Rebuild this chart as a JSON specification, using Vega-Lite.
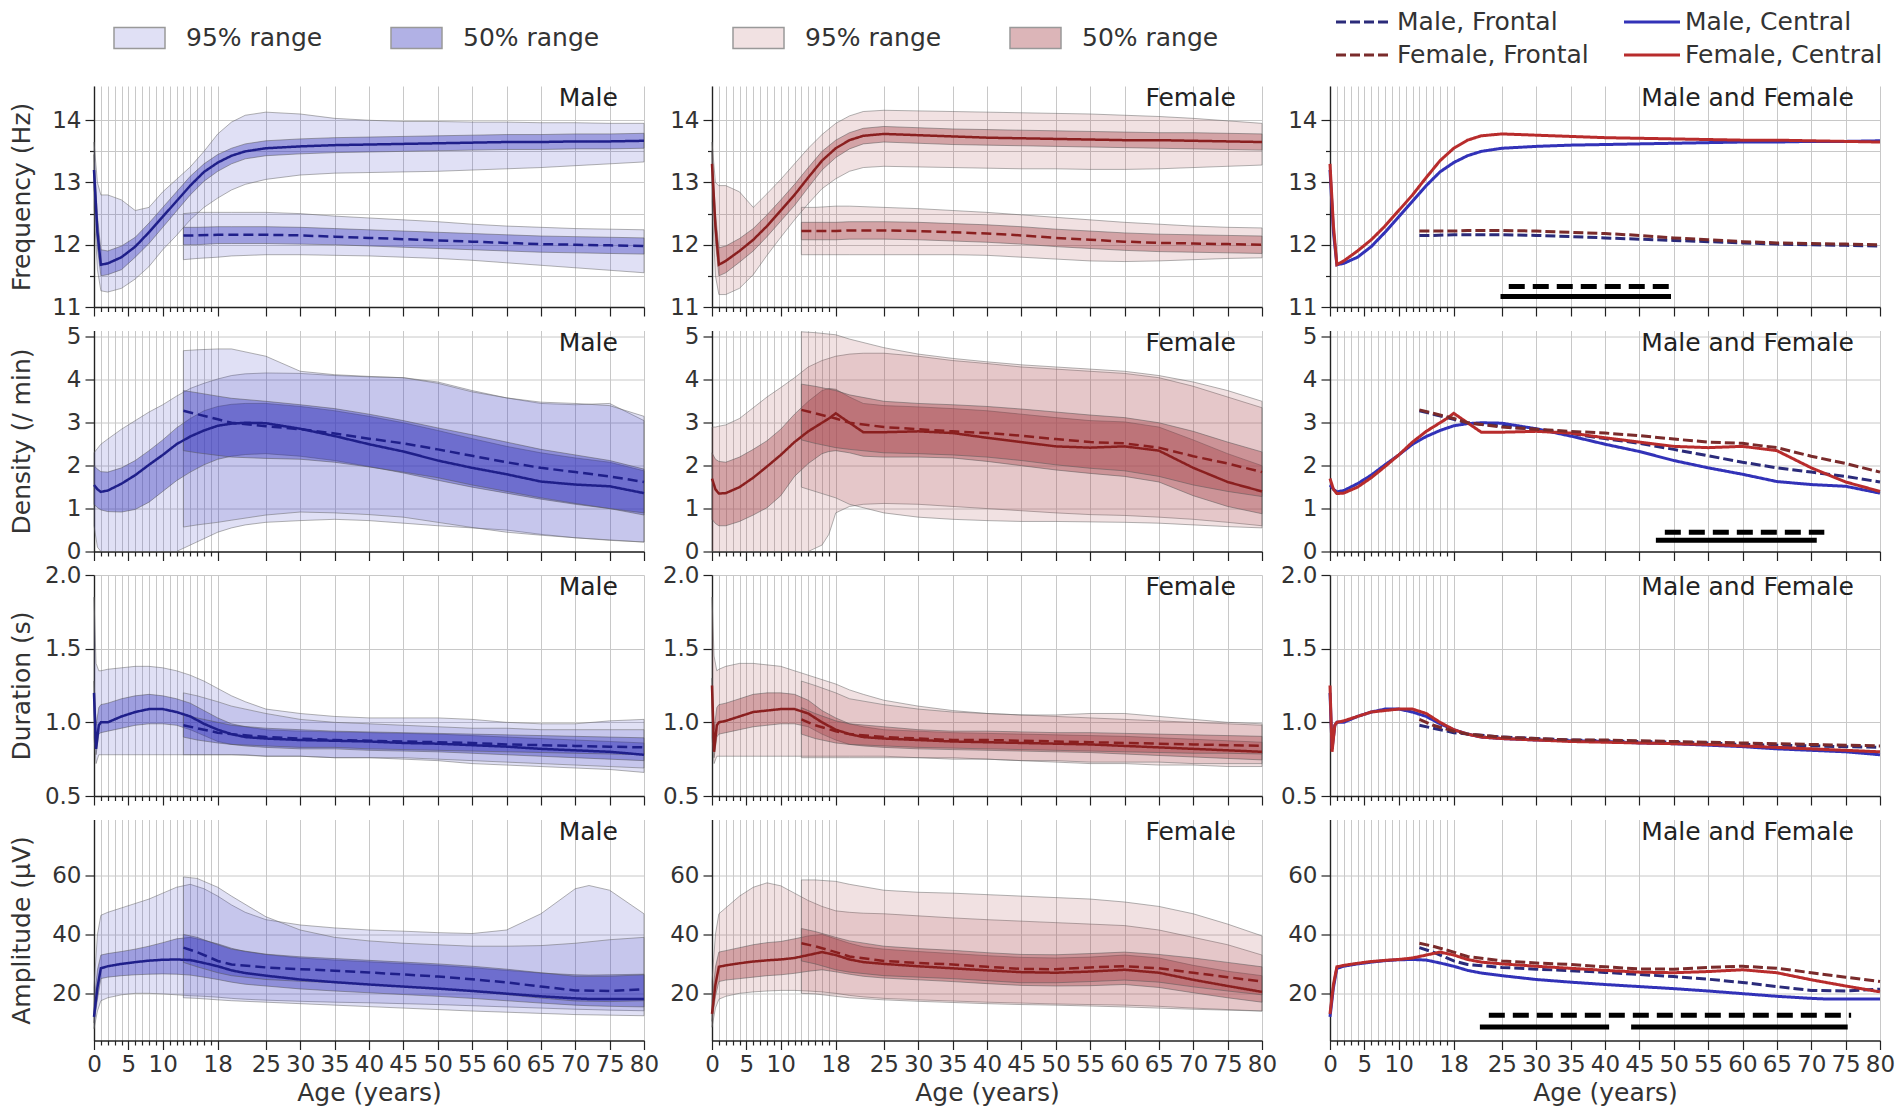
{
"$schema": "https://vega.github.io/schema/vega-lite/v6.json",
"background": "white",
"padding": {"left": 8, "top": 8, "right": 4, "bottom": 4},
"config": {
 "font": "DejaVu Sans",
 "view": {"stroke": null},
 "axis": {"grid": true, "gridColor": "#c8c8c8", "gridWidth": 1, "domainColor": "#222", "domainWidth": 1.4, "tickColor": "#222", "tickWidth": 1.2, "tickSize": 9, "labelFont": "DejaVu Sans", "labelFontSize": 23, "labelColor": "#333", "labelPadding": 4, "titleFont": "DejaVu Sans", "titleFontSize": 25, "titleFontWeight": "normal", "titleColor": "#333", "labelFlush": false, "labelOverlap": false, "labelBound": false, "tickCount": 100},
 "axisX": {"titlePadding": 4},
 "axisY": {"titleX": -60, "titleBaseline": "bottom"},
 "legend": {"labelFont": "DejaVu Sans", "labelFontSize": 25, "labelColor": "#333", "labelLimit": 400}
},
"datasets": {
"s": [
{"m":"f","t":"F","a0":26,"a1":50.3,"v":11.33},
{"m":"f","t":"C","a0":24.8,"a1":49.6,"v":11.17},
{"m":"d","t":"F","a0":48.7,"a1":71.9,"v":0.45},
{"m":"d","t":"C","a0":47.4,"a1":70.8,"v":0.26},
{"m":"a","t":"F","a0":23.1,"a1":75.8,"v":12.6},
{"m":"a","t":"C","a0":21.8,"a1":40.6,"v":8.6},
{"m":"a","t":"C","a0":43.8,"a1":75.3,"v":8.6}
],
"d": [
{"m":"f","g":"MC","a":0,"md":13.2,"l5":12.9,"h5":13.45,"l9":12.6,"h9":13.65},
{"m":"f","g":"MC","a":0.5,"md":12.2,"l5":11.95,"h5":12.45,"l9":11.6,"h9":13.0},
{"m":"f","g":"MC","a":1,"md":11.68,"l5":11.5,"h5":11.92,"l9":11.26,"h9":12.8},
{"m":"f","g":"MC","a":2,"md":11.7,"l5":11.52,"h5":11.9,"l9":11.24,"h9":12.8},
{"m":"f","g":"MC","a":4,"md":11.8,"l5":11.6,"h5":11.98,"l9":11.3,"h9":12.72},
{"m":"f","g":"MC","a":6,"md":11.97,"l5":11.8,"h5":12.12,"l9":11.45,"h9":12.55},
{"m":"f","g":"MC","a":8,"md":12.2,"l5":12.02,"h5":12.35,"l9":11.65,"h9":12.6},
{"m":"f","g":"MC","a":10,"md":12.45,"l5":12.28,"h5":12.6,"l9":11.92,"h9":12.85},
{"m":"f","g":"MC","a":12,"md":12.7,"l5":12.54,"h5":12.85,"l9":12.15,"h9":13.05},
{"m":"f","g":"MC","a":14,"md":12.95,"l5":12.8,"h5":13.1,"l9":12.4,"h9":13.25},
{"m":"f","g":"MC","a":16,"md":13.17,"l5":13.02,"h5":13.3,"l9":12.6,"h9":13.5},
{"m":"f","g":"MC","a":18,"md":13.32,"l5":13.18,"h5":13.45,"l9":12.75,"h9":13.78},
{"m":"f","g":"MC","a":20,"md":13.43,"l5":13.3,"h5":13.55,"l9":12.88,"h9":13.97},
{"m":"f","g":"MC","a":22,"md":13.5,"l5":13.38,"h5":13.62,"l9":12.97,"h9":14.08},
{"m":"f","g":"MC","a":25,"md":13.55,"l5":13.43,"h5":13.67,"l9":13.05,"h9":14.13},
{"m":"f","g":"MC","a":30,"md":13.58,"l5":13.46,"h5":13.7,"l9":13.12,"h9":14.1},
{"m":"f","g":"MC","a":35,"md":13.6,"l5":13.48,"h5":13.72,"l9":13.15,"h9":14.03},
{"m":"f","g":"MC","a":40,"md":13.61,"l5":13.49,"h5":13.73,"l9":13.16,"h9":14.0},
{"m":"f","g":"MC","a":45,"md":13.62,"l5":13.5,"h5":13.74,"l9":13.17,"h9":13.98},
{"m":"f","g":"MC","a":50,"md":13.63,"l5":13.51,"h5":13.75,"l9":13.18,"h9":13.98},
{"m":"f","g":"MC","a":55,"md":13.64,"l5":13.52,"h5":13.76,"l9":13.2,"h9":13.97},
{"m":"f","g":"MC","a":60,"md":13.65,"l5":13.53,"h5":13.77,"l9":13.22,"h9":13.97},
{"m":"f","g":"MC","a":65,"md":13.65,"l5":13.53,"h5":13.77,"l9":13.24,"h9":13.96},
{"m":"f","g":"MC","a":70,"md":13.66,"l5":13.54,"h5":13.78,"l9":13.27,"h9":13.96},
{"m":"f","g":"MC","a":75,"md":13.66,"l5":13.54,"h5":13.78,"l9":13.3,"h9":13.95},
{"m":"f","g":"MC","a":80,"md":13.67,"l5":13.55,"h5":13.79,"l9":13.33,"h9":13.95},
{"m":"f","g":"MF","a":13,"md":12.15,"l5":12.0,"h5":12.28,"l9":11.76,"h9":12.5},
{"m":"f","g":"MF","a":15,"md":12.15,"l5":12.0,"h5":12.28,"l9":11.78,"h9":12.52},
{"m":"f","g":"MF","a":18,"md":12.16,"l5":12.02,"h5":12.29,"l9":11.8,"h9":12.52},
{"m":"f","g":"MF","a":20,"md":12.16,"l5":12.02,"h5":12.29,"l9":11.82,"h9":12.52},
{"m":"f","g":"MF","a":25,"md":12.16,"l5":12.02,"h5":12.29,"l9":11.84,"h9":12.52},
{"m":"f","g":"MF","a":30,"md":12.15,"l5":12.01,"h5":12.28,"l9":11.84,"h9":12.5},
{"m":"f","g":"MF","a":35,"md":12.13,"l5":12.0,"h5":12.26,"l9":11.83,"h9":12.46},
{"m":"f","g":"MF","a":40,"md":12.11,"l5":11.98,"h5":12.24,"l9":11.82,"h9":12.43},
{"m":"f","g":"MF","a":45,"md":12.09,"l5":11.96,"h5":12.22,"l9":11.8,"h9":12.4},
{"m":"f","g":"MF","a":50,"md":12.07,"l5":11.94,"h5":12.2,"l9":11.78,"h9":12.37},
{"m":"f","g":"MF","a":55,"md":12.05,"l5":11.92,"h5":12.18,"l9":11.75,"h9":12.33},
{"m":"f","g":"MF","a":60,"md":12.03,"l5":11.9,"h5":12.16,"l9":11.71,"h9":12.3},
{"m":"f","g":"MF","a":65,"md":12.01,"l5":11.88,"h5":12.14,"l9":11.67,"h9":12.28},
{"m":"f","g":"MF","a":70,"md":12.0,"l5":11.87,"h5":12.13,"l9":11.63,"h9":12.26},
{"m":"f","g":"MF","a":75,"md":11.99,"l5":11.86,"h5":12.12,"l9":11.59,"h9":12.25},
{"m":"f","g":"MF","a":80,"md":11.98,"l5":11.85,"h5":12.11,"l9":11.55,"h9":12.24},
{"m":"f","g":"FC","a":0,"md":13.3,"l5":13.0,"h5":13.5,"l9":12.7,"h9":13.65},
{"m":"f","g":"FC","a":0.5,"md":12.3,"l5":12.05,"h5":12.5,"l9":11.5,"h9":13.0},
{"m":"f","g":"FC","a":1,"md":11.68,"l5":11.5,"h5":11.95,"l9":11.2,"h9":12.95},
{"m":"f","g":"FC","a":2,"md":11.74,"l5":11.55,"h5":11.98,"l9":11.2,"h9":12.95},
{"m":"f","g":"FC","a":4,"md":11.9,"l5":11.72,"h5":12.1,"l9":11.3,"h9":12.85},
{"m":"f","g":"FC","a":6,"md":12.08,"l5":11.9,"h5":12.26,"l9":11.52,"h9":12.6},
{"m":"f","g":"FC","a":8,"md":12.3,"l5":12.13,"h5":12.48,"l9":11.83,"h9":12.82},
{"m":"f","g":"FC","a":10,"md":12.55,"l5":12.38,"h5":12.72,"l9":12.12,"h9":13.05},
{"m":"f","g":"FC","a":12,"md":12.8,"l5":12.63,"h5":12.97,"l9":12.4,"h9":13.3},
{"m":"f","g":"FC","a":14,"md":13.08,"l5":12.92,"h5":13.24,"l9":12.66,"h9":13.55},
{"m":"f","g":"FC","a":16,"md":13.35,"l5":13.2,"h5":13.5,"l9":12.9,"h9":13.77},
{"m":"f","g":"FC","a":18,"md":13.55,"l5":13.4,"h5":13.68,"l9":13.06,"h9":13.95},
{"m":"f","g":"FC","a":20,"md":13.68,"l5":13.54,"h5":13.8,"l9":13.18,"h9":14.07},
{"m":"f","g":"FC","a":22,"md":13.75,"l5":13.62,"h5":13.87,"l9":13.24,"h9":14.14},
{"m":"f","g":"FC","a":25,"md":13.78,"l5":13.65,"h5":13.9,"l9":13.26,"h9":14.16},
{"m":"f","g":"FC","a":30,"md":13.76,"l5":13.63,"h5":13.88,"l9":13.25,"h9":14.15},
{"m":"f","g":"FC","a":35,"md":13.74,"l5":13.61,"h5":13.86,"l9":13.24,"h9":14.14},
{"m":"f","g":"FC","a":40,"md":13.72,"l5":13.6,"h5":13.85,"l9":13.23,"h9":14.13},
{"m":"f","g":"FC","a":45,"md":13.71,"l5":13.59,"h5":13.84,"l9":13.22,"h9":14.12},
{"m":"f","g":"FC","a":50,"md":13.7,"l5":13.58,"h5":13.83,"l9":13.22,"h9":14.11},
{"m":"f","g":"FC","a":55,"md":13.69,"l5":13.57,"h5":13.82,"l9":13.21,"h9":14.1},
{"m":"f","g":"FC","a":60,"md":13.68,"l5":13.56,"h5":13.81,"l9":13.21,"h9":14.08},
{"m":"f","g":"FC","a":65,"md":13.68,"l5":13.55,"h5":13.8,"l9":13.22,"h9":14.06},
{"m":"f","g":"FC","a":70,"md":13.67,"l5":13.54,"h5":13.8,"l9":13.24,"h9":14.03},
{"m":"f","g":"FC","a":75,"md":13.66,"l5":13.53,"h5":13.79,"l9":13.26,"h9":13.99},
{"m":"f","g":"FC","a":80,"md":13.65,"l5":13.52,"h5":13.78,"l9":13.28,"h9":13.95},
{"m":"f","g":"FF","a":13,"md":12.22,"l5":12.08,"h5":12.36,"l9":11.84,"h9":12.6},
{"m":"f","g":"FF","a":15,"md":12.22,"l5":12.08,"h5":12.36,"l9":11.84,"h9":12.6},
{"m":"f","g":"FF","a":18,"md":12.22,"l5":12.08,"h5":12.36,"l9":11.84,"h9":12.62},
{"m":"f","g":"FF","a":20,"md":12.23,"l5":12.09,"h5":12.37,"l9":11.84,"h9":12.62},
{"m":"f","g":"FF","a":25,"md":12.23,"l5":12.09,"h5":12.37,"l9":11.84,"h9":12.6},
{"m":"f","g":"FF","a":30,"md":12.22,"l5":12.08,"h5":12.36,"l9":11.84,"h9":12.58},
{"m":"f","g":"FF","a":35,"md":12.2,"l5":12.06,"h5":12.34,"l9":11.84,"h9":12.55},
{"m":"f","g":"FF","a":40,"md":12.18,"l5":12.04,"h5":12.32,"l9":11.83,"h9":12.52},
{"m":"f","g":"FF","a":45,"md":12.15,"l5":12.01,"h5":12.29,"l9":11.8,"h9":12.48},
{"m":"f","g":"FF","a":50,"md":12.11,"l5":11.97,"h5":12.25,"l9":11.77,"h9":12.44},
{"m":"f","g":"FF","a":55,"md":12.08,"l5":11.94,"h5":12.22,"l9":11.74,"h9":12.4},
{"m":"f","g":"FF","a":60,"md":12.05,"l5":11.91,"h5":12.19,"l9":11.73,"h9":12.36},
{"m":"f","g":"FF","a":65,"md":12.03,"l5":11.89,"h5":12.17,"l9":11.74,"h9":12.33},
{"m":"f","g":"FF","a":70,"md":12.02,"l5":11.88,"h5":12.16,"l9":11.76,"h9":12.3},
{"m":"f","g":"FF","a":75,"md":12.01,"l5":11.87,"h5":12.15,"l9":11.78,"h9":12.28},
{"m":"f","g":"FF","a":80,"md":12.0,"l5":11.86,"h5":12.14,"l9":11.79,"h9":12.27},
{"m":"d","g":"MC","a":0,"md":1.55,"l5":1.1,"h5":2.0,"l9":0.6,"h9":2.3},
{"m":"d","g":"MC","a":0.5,"md":1.45,"l5":1.02,"h5":1.92,"l9":0.1,"h9":2.4},
{"m":"d","g":"MC","a":1,"md":1.39,"l5":0.97,"h5":1.86,"l9":0,"h9":2.5},
{"m":"d","g":"MC","a":2,"md":1.42,"l5":0.93,"h5":1.85,"l9":0,"h9":2.62},
{"m":"d","g":"MC","a":4,"md":1.58,"l5":0.92,"h5":1.95,"l9":0,"h9":2.85},
{"m":"d","g":"MC","a":6,"md":1.78,"l5":0.98,"h5":2.12,"l9":0,"h9":3.05},
{"m":"d","g":"MC","a":8,"md":2.02,"l5":1.15,"h5":2.35,"l9":0,"h9":3.25},
{"m":"d","g":"MC","a":10,"md":2.25,"l5":1.4,"h5":2.6,"l9":0,"h9":3.42},
{"m":"d","g":"MC","a":12,"md":2.5,"l5":1.65,"h5":2.88,"l9":0,"h9":3.62},
{"m":"d","g":"MC","a":14,"md":2.68,"l5":1.85,"h5":3.1,"l9":0.15,"h9":3.8},
{"m":"d","g":"MC","a":16,"md":2.82,"l5":2.02,"h5":3.28,"l9":0.3,"h9":3.92},
{"m":"d","g":"MC","a":18,"md":2.93,"l5":2.15,"h5":3.38,"l9":0.45,"h9":4.02},
{"m":"d","g":"MC","a":20,"md":2.98,"l5":2.22,"h5":3.43,"l9":0.55,"h9":4.1},
{"m":"d","g":"MC","a":22,"md":3.0,"l5":2.26,"h5":3.45,"l9":0.62,"h9":4.14},
{"m":"d","g":"MC","a":25,"md":2.99,"l5":2.28,"h5":3.45,"l9":0.68,"h9":4.16},
{"m":"d","g":"MC","a":30,"md":2.86,"l5":2.22,"h5":3.38,"l9":0.72,"h9":4.15},
{"m":"d","g":"MC","a":35,"md":2.69,"l5":2.12,"h5":3.28,"l9":0.75,"h9":4.1},
{"m":"d","g":"MC","a":40,"md":2.5,"l5":1.98,"h5":3.15,"l9":0.72,"h9":4.07},
{"m":"d","g":"MC","a":45,"md":2.33,"l5":1.83,"h5":3.0,"l9":0.66,"h9":4.05},
{"m":"d","g":"MC","a":50,"md":2.12,"l5":1.66,"h5":2.82,"l9":0.6,"h9":3.95},
{"m":"d","g":"MC","a":55,"md":1.95,"l5":1.5,"h5":2.63,"l9":0.55,"h9":3.75},
{"m":"d","g":"MC","a":60,"md":1.8,"l5":1.36,"h5":2.45,"l9":0.5,"h9":3.58},
{"m":"d","g":"MC","a":65,"md":1.63,"l5":1.22,"h5":2.3,"l9":0.4,"h9":3.45},
{"m":"d","g":"MC","a":70,"md":1.56,"l5":1.1,"h5":2.18,"l9":0.32,"h9":3.42},
{"m":"d","g":"MC","a":75,"md":1.52,"l5":1.0,"h5":2.08,"l9":0.26,"h9":3.45},
{"m":"d","g":"MC","a":80,"md":1.36,"l5":0.85,"h5":1.88,"l9":0.22,"h9":3.05},
{"m":"d","g":"MF","a":13,"md":3.28,"l5":2.35,"h5":3.75,"l9":0.57,"h9":4.68},
{"m":"d","g":"MF","a":15,"md":3.2,"l5":2.3,"h5":3.7,"l9":0.62,"h9":4.7},
{"m":"d","g":"MF","a":18,"md":3.08,"l5":2.24,"h5":3.62,"l9":0.68,"h9":4.72},
{"m":"d","g":"MF","a":20,"md":3.0,"l5":2.2,"h5":3.57,"l9":0.73,"h9":4.72},
{"m":"d","g":"MF","a":25,"md":2.92,"l5":2.17,"h5":3.5,"l9":0.85,"h9":4.55},
{"m":"d","g":"MF","a":30,"md":2.85,"l5":2.15,"h5":3.42,"l9":0.92,"h9":4.2},
{"m":"d","g":"MF","a":35,"md":2.75,"l5":2.08,"h5":3.33,"l9":0.9,"h9":4.12},
{"m":"d","g":"MF","a":40,"md":2.63,"l5":1.97,"h5":3.2,"l9":0.86,"h9":4.08},
{"m":"d","g":"MF","a":45,"md":2.52,"l5":1.85,"h5":3.05,"l9":0.8,"h9":4.05},
{"m":"d","g":"MF","a":50,"md":2.38,"l5":1.72,"h5":2.88,"l9":0.68,"h9":3.92},
{"m":"d","g":"MF","a":55,"md":2.23,"l5":1.55,"h5":2.72,"l9":0.56,"h9":3.72},
{"m":"d","g":"MF","a":60,"md":2.08,"l5":1.4,"h5":2.55,"l9":0.45,"h9":3.58},
{"m":"d","g":"MF","a":65,"md":1.95,"l5":1.25,"h5":2.38,"l9":0.38,"h9":3.48},
{"m":"d","g":"MF","a":70,"md":1.85,"l5":1.12,"h5":2.25,"l9":0.32,"h9":3.45},
{"m":"d","g":"MF","a":75,"md":1.75,"l5":1.0,"h5":2.12,"l9":0.27,"h9":3.4},
{"m":"d","g":"MF","a":80,"md":1.62,"l5":0.9,"h5":1.92,"l9":0.22,"h9":3.15},
{"m":"d","g":"FC","a":0,"md":1.7,"l5":0.75,"h5":2.3,"l9":0,"h9":2.9},
{"m":"d","g":"FC","a":0.5,"md":1.45,"l5":0.65,"h5":2.15,"l9":0,"h9":2.9},
{"m":"d","g":"FC","a":1,"md":1.35,"l5":0.6,"h5":2.1,"l9":0,"h9":2.92},
{"m":"d","g":"FC","a":2,"md":1.36,"l5":0.6,"h5":2.08,"l9":0,"h9":2.95},
{"m":"d","g":"FC","a":4,"md":1.5,"l5":0.7,"h5":2.2,"l9":0,"h9":3.1},
{"m":"d","g":"FC","a":6,"md":1.72,"l5":0.85,"h5":2.38,"l9":0,"h9":3.35},
{"m":"d","g":"FC","a":8,"md":1.98,"l5":1.02,"h5":2.58,"l9":0,"h9":3.6},
{"m":"d","g":"FC","a":10,"md":2.25,"l5":1.3,"h5":2.85,"l9":0,"h9":3.82},
{"m":"d","g":"FC","a":12,"md":2.55,"l5":1.75,"h5":3.2,"l9":0,"h9":4.05},
{"m":"d","g":"FC","a":14,"md":2.8,"l5":2.05,"h5":3.5,"l9":0,"h9":4.3},
{"m":"d","g":"FC","a":16,"md":3.0,"l5":2.28,"h5":3.75,"l9":0.15,"h9":4.45},
{"m":"d","g":"FC","a":17,"md":3.1,"l5":2.33,"h5":3.8,"l9":0.4,"h9":4.5},
{"m":"d","g":"FC","a":18,"md":3.22,"l5":2.35,"h5":3.78,"l9":0.9,"h9":4.55},
{"m":"d","g":"FC","a":20,"md":3.0,"l5":2.3,"h5":3.6,"l9":1.05,"h9":4.6},
{"m":"d","g":"FC","a":22,"md":2.78,"l5":2.22,"h5":3.45,"l9":1.1,"h9":4.62},
{"m":"d","g":"FC","a":25,"md":2.78,"l5":2.2,"h5":3.4,"l9":1.12,"h9":4.62},
{"m":"d","g":"FC","a":30,"md":2.8,"l5":2.2,"h5":3.37,"l9":1.1,"h9":4.55},
{"m":"d","g":"FC","a":35,"md":2.76,"l5":2.18,"h5":3.33,"l9":1.05,"h9":4.45},
{"m":"d","g":"FC","a":40,"md":2.65,"l5":2.1,"h5":3.28,"l9":1.0,"h9":4.38},
{"m":"d","g":"FC","a":45,"md":2.55,"l5":2.0,"h5":3.2,"l9":0.95,"h9":4.3},
{"m":"d","g":"FC","a":50,"md":2.45,"l5":1.9,"h5":3.12,"l9":0.9,"h9":4.25},
{"m":"d","g":"FC","a":55,"md":2.42,"l5":1.82,"h5":3.05,"l9":0.86,"h9":4.2},
{"m":"d","g":"FC","a":60,"md":2.45,"l5":1.75,"h5":3.02,"l9":0.84,"h9":4.15},
{"m":"d","g":"FC","a":65,"md":2.35,"l5":1.62,"h5":2.9,"l9":0.8,"h9":4.05},
{"m":"d","g":"FC","a":70,"md":1.95,"l5":1.3,"h5":2.6,"l9":0.75,"h9":3.85},
{"m":"d","g":"FC","a":75,"md":1.62,"l5":1.05,"h5":2.28,"l9":0.68,"h9":3.6},
{"m":"d","g":"FC","a":80,"md":1.4,"l5":0.88,"h5":2.0,"l9":0.6,"h9":3.35},
{"m":"d","g":"FF","a":13,"md":3.3,"l5":2.6,"h5":3.9,"l9":1.5,"h9":5.12},
{"m":"d","g":"FF","a":15,"md":3.22,"l5":2.52,"h5":3.85,"l9":1.4,"h9":5.1},
{"m":"d","g":"FF","a":18,"md":3.1,"l5":2.42,"h5":3.75,"l9":1.25,"h9":5.05},
{"m":"d","g":"FF","a":20,"md":3.0,"l5":2.38,"h5":3.65,"l9":1.1,"h9":4.95},
{"m":"d","g":"FF","a":25,"md":2.9,"l5":2.3,"h5":3.5,"l9":0.9,"h9":4.75},
{"m":"d","g":"FF","a":30,"md":2.85,"l5":2.28,"h5":3.45,"l9":0.8,"h9":4.6},
{"m":"d","g":"FF","a":35,"md":2.8,"l5":2.25,"h5":3.42,"l9":0.75,"h9":4.5},
{"m":"d","g":"FF","a":40,"md":2.76,"l5":2.2,"h5":3.38,"l9":0.72,"h9":4.42},
{"m":"d","g":"FF","a":45,"md":2.7,"l5":2.12,"h5":3.32,"l9":0.7,"h9":4.35},
{"m":"d","g":"FF","a":50,"md":2.62,"l5":2.02,"h5":3.25,"l9":0.7,"h9":4.3},
{"m":"d","g":"FF","a":55,"md":2.55,"l5":1.94,"h5":3.18,"l9":0.69,"h9":4.25},
{"m":"d","g":"FF","a":60,"md":2.52,"l5":1.88,"h5":3.12,"l9":0.68,"h9":4.2},
{"m":"d","g":"FF","a":65,"md":2.42,"l5":1.75,"h5":3.0,"l9":0.66,"h9":4.1},
{"m":"d","g":"FF","a":70,"md":2.22,"l5":1.55,"h5":2.8,"l9":0.62,"h9":3.95},
{"m":"d","g":"FF","a":75,"md":2.05,"l5":1.4,"h5":2.55,"l9":0.58,"h9":3.75},
{"m":"d","g":"FF","a":80,"md":1.85,"l5":1.28,"h5":2.32,"l9":0.55,"h9":3.5},
{"m":"u","g":"MC","a":0,"md":1.2,"l5":1.1,"h5":1.28,"l9":0.9,"h9":1.85},
{"m":"u","g":"MC","a":0.3,"md":0.82,"l5":0.78,"h5":0.98,"l9":0.72,"h9":1.4},
{"m":"u","g":"MC","a":0.7,"md":0.98,"l5":0.92,"h5":1.1,"l9":0.78,"h9":1.35},
{"m":"u","g":"MC","a":1,"md":1.0,"l5":0.93,"h5":1.12,"l9":0.78,"h9":1.35},
{"m":"u","g":"MC","a":2,"md":1.0,"l5":0.94,"h5":1.13,"l9":0.78,"h9":1.36},
{"m":"u","g":"MC","a":4,"md":1.04,"l5":0.96,"h5":1.16,"l9":0.78,"h9":1.37},
{"m":"u","g":"MC","a":6,"md":1.07,"l5":0.98,"h5":1.18,"l9":0.78,"h9":1.38},
{"m":"u","g":"MC","a":8,"md":1.09,"l5":0.99,"h5":1.19,"l9":0.78,"h9":1.38},
{"m":"u","g":"MC","a":10,"md":1.09,"l5":0.99,"h5":1.18,"l9":0.78,"h9":1.37},
{"m":"u","g":"MC","a":12,"md":1.07,"l5":0.98,"h5":1.16,"l9":0.78,"h9":1.35},
{"m":"u","g":"MC","a":14,"md":1.04,"l5":0.95,"h5":1.13,"l9":0.78,"h9":1.32},
{"m":"u","g":"MC","a":16,"md":0.99,"l5":0.91,"h5":1.08,"l9":0.78,"h9":1.28},
{"m":"u","g":"MC","a":18,"md":0.95,"l5":0.87,"h5":1.03,"l9":0.78,"h9":1.23},
{"m":"u","g":"MC","a":20,"md":0.92,"l5":0.85,"h5":0.99,"l9":0.78,"h9":1.18},
{"m":"u","g":"MC","a":22,"md":0.9,"l5":0.84,"h5":0.97,"l9":0.78,"h9":1.14},
{"m":"u","g":"MC","a":25,"md":0.89,"l5":0.83,"h5":0.95,"l9":0.77,"h9":1.09},
{"m":"u","g":"MC","a":30,"md":0.88,"l5":0.82,"h5":0.94,"l9":0.77,"h9":1.06},
{"m":"u","g":"MC","a":35,"md":0.875,"l5":0.82,"h5":0.935,"l9":0.76,"h9":1.04},
{"m":"u","g":"MC","a":40,"md":0.87,"l5":0.81,"h5":0.93,"l9":0.76,"h9":1.03},
{"m":"u","g":"MC","a":45,"md":0.86,"l5":0.805,"h5":0.925,"l9":0.75,"h9":1.03},
{"m":"u","g":"MC","a":50,"md":0.855,"l5":0.8,"h5":0.92,"l9":0.74,"h9":1.03},
{"m":"u","g":"MC","a":55,"md":0.845,"l5":0.79,"h5":0.91,"l9":0.72,"h9":1.02},
{"m":"u","g":"MC","a":60,"md":0.835,"l5":0.78,"h5":0.9,"l9":0.71,"h9":1.0},
{"m":"u","g":"MC","a":65,"md":0.82,"l5":0.77,"h5":0.89,"l9":0.7,"h9":0.99},
{"m":"u","g":"MC","a":70,"md":0.81,"l5":0.76,"h5":0.88,"l9":0.69,"h9":0.99},
{"m":"u","g":"MC","a":75,"md":0.8,"l5":0.75,"h5":0.87,"l9":0.68,"h9":1.01},
{"m":"u","g":"MC","a":80,"md":0.78,"l5":0.74,"h5":0.86,"l9":0.66,"h9":1.02},
{"m":"u","g":"MF","a":13,"md":0.98,"l5":0.9,"h5":1.05,"l9":0.78,"h9":1.2},
{"m":"u","g":"MF","a":15,"md":0.96,"l5":0.88,"h5":1.03,"l9":0.78,"h9":1.18},
{"m":"u","g":"MF","a":18,"md":0.93,"l5":0.86,"h5":1.0,"l9":0.78,"h9":1.14},
{"m":"u","g":"MF","a":20,"md":0.92,"l5":0.85,"h5":0.98,"l9":0.78,"h9":1.11},
{"m":"u","g":"MF","a":25,"md":0.9,"l5":0.84,"h5":0.96,"l9":0.77,"h9":1.06},
{"m":"u","g":"MF","a":30,"md":0.89,"l5":0.83,"h5":0.95,"l9":0.77,"h9":1.02},
{"m":"u","g":"MF","a":35,"md":0.88,"l5":0.83,"h5":0.94,"l9":0.76,"h9":1.0},
{"m":"u","g":"MF","a":40,"md":0.875,"l5":0.82,"h5":0.935,"l9":0.76,"h9":0.99},
{"m":"u","g":"MF","a":45,"md":0.87,"l5":0.815,"h5":0.93,"l9":0.76,"h9":0.98},
{"m":"u","g":"MF","a":50,"md":0.865,"l5":0.81,"h5":0.925,"l9":0.75,"h9":0.97},
{"m":"u","g":"MF","a":55,"md":0.86,"l5":0.805,"h5":0.92,"l9":0.74,"h9":0.96},
{"m":"u","g":"MF","a":60,"md":0.85,"l5":0.8,"h5":0.915,"l9":0.73,"h9":0.96},
{"m":"u","g":"MF","a":65,"md":0.845,"l5":0.795,"h5":0.91,"l9":0.72,"h9":0.95},
{"m":"u","g":"MF","a":70,"md":0.84,"l5":0.79,"h5":0.905,"l9":0.71,"h9":0.95},
{"m":"u","g":"MF","a":75,"md":0.835,"l5":0.785,"h5":0.9,"l9":0.7,"h9":0.95},
{"m":"u","g":"MF","a":80,"md":0.83,"l5":0.78,"h5":0.895,"l9":0.69,"h9":0.95},
{"m":"u","g":"FC","a":0,"md":1.25,"l5":1.12,"h5":1.3,"l9":0.9,"h9":1.85},
{"m":"u","g":"FC","a":0.3,"md":0.8,"l5":0.76,"h5":0.95,"l9":0.72,"h9":1.45},
{"m":"u","g":"FC","a":0.7,"md":0.98,"l5":0.9,"h5":1.1,"l9":0.77,"h9":1.35},
{"m":"u","g":"FC","a":1,"md":1.0,"l5":0.92,"h5":1.12,"l9":0.77,"h9":1.36},
{"m":"u","g":"FC","a":2,"md":1.01,"l5":0.93,"h5":1.13,"l9":0.77,"h9":1.38},
{"m":"u","g":"FC","a":4,"md":1.04,"l5":0.95,"h5":1.16,"l9":0.77,"h9":1.4},
{"m":"u","g":"FC","a":6,"md":1.07,"l5":0.97,"h5":1.19,"l9":0.77,"h9":1.4},
{"m":"u","g":"FC","a":8,"md":1.08,"l5":0.98,"h5":1.2,"l9":0.77,"h9":1.39},
{"m":"u","g":"FC","a":10,"md":1.09,"l5":0.99,"h5":1.2,"l9":0.77,"h9":1.38},
{"m":"u","g":"FC","a":12,"md":1.09,"l5":0.99,"h5":1.19,"l9":0.77,"h9":1.35},
{"m":"u","g":"FC","a":14,"md":1.06,"l5":0.97,"h5":1.15,"l9":0.77,"h9":1.32},
{"m":"u","g":"FC","a":16,"md":1.0,"l5":0.92,"h5":1.08,"l9":0.77,"h9":1.29},
{"m":"u","g":"FC","a":18,"md":0.95,"l5":0.88,"h5":1.03,"l9":0.77,"h9":1.26},
{"m":"u","g":"FC","a":20,"md":0.92,"l5":0.85,"h5":0.99,"l9":0.77,"h9":1.22},
{"m":"u","g":"FC","a":22,"md":0.9,"l5":0.84,"h5":0.97,"l9":0.77,"h9":1.19},
{"m":"u","g":"FC","a":25,"md":0.89,"l5":0.83,"h5":0.95,"l9":0.77,"h9":1.15},
{"m":"u","g":"FC","a":30,"md":0.88,"l5":0.82,"h5":0.94,"l9":0.76,"h9":1.11},
{"m":"u","g":"FC","a":35,"md":0.87,"l5":0.815,"h5":0.93,"l9":0.76,"h9":1.08},
{"m":"u","g":"FC","a":40,"md":0.865,"l5":0.81,"h5":0.925,"l9":0.75,"h9":1.06},
{"m":"u","g":"FC","a":45,"md":0.86,"l5":0.805,"h5":0.92,"l9":0.74,"h9":1.05},
{"m":"u","g":"FC","a":50,"md":0.855,"l5":0.8,"h5":0.915,"l9":0.73,"h9":1.04},
{"m":"u","g":"FC","a":55,"md":0.85,"l5":0.795,"h5":0.91,"l9":0.72,"h9":1.03},
{"m":"u","g":"FC","a":60,"md":0.84,"l5":0.785,"h5":0.905,"l9":0.72,"h9":1.02},
{"m":"u","g":"FC","a":65,"md":0.83,"l5":0.775,"h5":0.895,"l9":0.71,"h9":1.01},
{"m":"u","g":"FC","a":70,"md":0.82,"l5":0.765,"h5":0.885,"l9":0.71,"h9":1.0},
{"m":"u","g":"FC","a":75,"md":0.81,"l5":0.755,"h5":0.875,"l9":0.7,"h9":0.99},
{"m":"u","g":"FC","a":80,"md":0.8,"l5":0.745,"h5":0.865,"l9":0.7,"h9":0.98},
{"m":"u","g":"FF","a":13,"md":1.02,"l5":0.92,"h5":1.1,"l9":0.76,"h9":1.28},
{"m":"u","g":"FF","a":15,"md":0.98,"l5":0.89,"h5":1.06,"l9":0.76,"h9":1.25},
{"m":"u","g":"FF","a":18,"md":0.94,"l5":0.86,"h5":1.01,"l9":0.76,"h9":1.2},
{"m":"u","g":"FF","a":20,"md":0.92,"l5":0.85,"h5":0.99,"l9":0.76,"h9":1.16},
{"m":"u","g":"FF","a":25,"md":0.9,"l5":0.84,"h5":0.97,"l9":0.76,"h9":1.12},
{"m":"u","g":"FF","a":30,"md":0.89,"l5":0.83,"h5":0.95,"l9":0.76,"h9":1.09},
{"m":"u","g":"FF","a":35,"md":0.88,"l5":0.825,"h5":0.94,"l9":0.75,"h9":1.07},
{"m":"u","g":"FF","a":40,"md":0.88,"l5":0.82,"h5":0.94,"l9":0.75,"h9":1.06},
{"m":"u","g":"FF","a":45,"md":0.875,"l5":0.815,"h5":0.935,"l9":0.74,"h9":1.05},
{"m":"u","g":"FF","a":50,"md":0.87,"l5":0.81,"h5":0.93,"l9":0.74,"h9":1.05},
{"m":"u","g":"FF","a":55,"md":0.865,"l5":0.805,"h5":0.93,"l9":0.73,"h9":1.06},
{"m":"u","g":"FF","a":60,"md":0.86,"l5":0.8,"h5":0.925,"l9":0.73,"h9":1.06},
{"m":"u","g":"FF","a":65,"md":0.855,"l5":0.795,"h5":0.92,"l9":0.73,"h9":1.04},
{"m":"u","g":"FF","a":70,"md":0.85,"l5":0.79,"h5":0.915,"l9":0.72,"h9":1.02},
{"m":"u","g":"FF","a":75,"md":0.845,"l5":0.79,"h5":0.91,"l9":0.72,"h9":1.0},
{"m":"u","g":"FF","a":80,"md":0.84,"l5":0.785,"h5":0.905,"l9":0.72,"h9":0.99},
{"m":"a","g":"MC","a":0,"md":12,"l5":10,"h5":16,"l9":8,"h9":22},
{"m":"a","g":"MC","a":0.5,"md":22,"l5":18,"h5":28,"l9":14,"h9":40},
{"m":"a","g":"MC","a":1,"md":28.5,"l5":25,"h5":33,"l9":17.5,"h9":46.5},
{"m":"a","g":"MC","a":2,"md":29.2,"l5":25.5,"h5":33.5,"l9":18.5,"h9":47.5},
{"m":"a","g":"MC","a":4,"md":30,"l5":26,"h5":34.2,"l9":19.5,"h9":49},
{"m":"a","g":"MC","a":6,"md":30.6,"l5":26.3,"h5":35,"l9":20,"h9":50.5},
{"m":"a","g":"MC","a":8,"md":31.1,"l5":26.5,"h5":36,"l9":20,"h9":52},
{"m":"a","g":"MC","a":10,"md":31.4,"l5":26.6,"h5":37.2,"l9":19.8,"h9":54},
{"m":"a","g":"MC","a":12,"md":31.5,"l5":26.5,"h5":38.5,"l9":19.5,"h9":56},
{"m":"a","g":"MC","a":14,"md":31.3,"l5":26.2,"h5":39,"l9":19.2,"h9":57},
{"m":"a","g":"MC","a":16,"md":30.3,"l5":25.5,"h5":38,"l9":19,"h9":55.5},
{"m":"a","g":"MC","a":18,"md":29.2,"l5":24.7,"h5":36.8,"l9":18.7,"h9":53},
{"m":"a","g":"MC","a":20,"md":27.8,"l5":23.8,"h5":35.3,"l9":18.3,"h9":50},
{"m":"a","g":"MC","a":22,"md":26.9,"l5":23.1,"h5":34.2,"l9":18,"h9":47.5},
{"m":"a","g":"MC","a":25,"md":26,"l5":22.5,"h5":33.2,"l9":17.7,"h9":45},
{"m":"a","g":"MC","a":30,"md":24.7,"l5":21.5,"h5":32,"l9":17.3,"h9":43.2},
{"m":"a","g":"MC","a":35,"md":23.8,"l5":20.8,"h5":31.3,"l9":17,"h9":42.2},
{"m":"a","g":"MC","a":40,"md":23,"l5":20.2,"h5":30.7,"l9":16.8,"h9":41.5},
{"m":"a","g":"MC","a":45,"md":22.3,"l5":19.6,"h5":30.1,"l9":16.5,"h9":41.1},
{"m":"a","g":"MC","a":50,"md":21.6,"l5":19,"h5":29.5,"l9":16.2,"h9":40.6},
{"m":"a","g":"MC","a":55,"md":20.8,"l5":18.3,"h5":28.7,"l9":15.8,"h9":40.3},
{"m":"a","g":"MC","a":60,"md":19.9,"l5":17.5,"h5":27.8,"l9":15.4,"h9":41.5},
{"m":"a","g":"MC","a":65,"md":19,"l5":16.7,"h5":26.9,"l9":15,"h9":47},
{"m":"a","g":"MC","a":70,"md":18.3,"l5":16,"h5":26.3,"l9":14.6,"h9":55.5},
{"m":"a","g":"MC","a":72,"md":18.1,"l5":15.8,"h5":26.2,"l9":14.5,"h9":56.6},
{"m":"a","g":"MC","a":75,"md":18.1,"l5":15.6,"h5":26.3,"l9":14.3,"h9":55},
{"m":"a","g":"MC","a":80,"md":18.1,"l5":15.4,"h5":26.5,"l9":14.1,"h9":47},
{"m":"a","g":"MF","a":13,"md":35.5,"l5":30.5,"h5":40,"l9":18.5,"h9":59.5},
{"m":"a","g":"MF","a":15,"md":34,"l5":29,"h5":39,"l9":18.3,"h9":59},
{"m":"a","g":"MF","a":18,"md":31,"l5":27,"h5":36.5,"l9":17.8,"h9":56},
{"m":"a","g":"MF","a":20,"md":29.8,"l5":26,"h5":35,"l9":17.5,"h9":53},
{"m":"a","g":"MF","a":25,"md":28.8,"l5":24.7,"h5":33.3,"l9":17,"h9":46},
{"m":"a","g":"MF","a":30,"md":28.2,"l5":24.1,"h5":32.4,"l9":16.5,"h9":41.5},
{"m":"a","g":"MF","a":35,"md":27.7,"l5":23.6,"h5":31.8,"l9":16,"h9":39},
{"m":"a","g":"MF","a":40,"md":27.1,"l5":23,"h5":31.2,"l9":15.5,"h9":37.8},
{"m":"a","g":"MF","a":45,"md":26.4,"l5":22.3,"h5":30.6,"l9":15,"h9":37},
{"m":"a","g":"MF","a":50,"md":25.7,"l5":21.6,"h5":30,"l9":14.5,"h9":36.5},
{"m":"a","g":"MF","a":55,"md":24.8,"l5":20.7,"h5":29.2,"l9":14,"h9":36},
{"m":"a","g":"MF","a":60,"md":23.7,"l5":19.6,"h5":28.2,"l9":13.6,"h9":36},
{"m":"a","g":"MF","a":65,"md":22.3,"l5":18.4,"h5":27,"l9":13.2,"h9":36.2},
{"m":"a","g":"MF","a":70,"md":21,"l5":17.4,"h5":25.8,"l9":12.8,"h9":37},
{"m":"a","g":"MF","a":75,"md":20.8,"l5":17.2,"h5":25.8,"l9":12.6,"h9":38.2},
{"m":"a","g":"MF","a":80,"md":21.4,"l5":17.5,"h5":26.3,"l9":12.4,"h9":39},
{"m":"a","g":"FC","a":0,"md":13,"l5":10.5,"h5":17,"l9":8.5,"h9":24},
{"m":"a","g":"FC","a":0.5,"md":23,"l5":19,"h5":29,"l9":15,"h9":40},
{"m":"a","g":"FC","a":1,"md":29,"l5":24,"h5":34,"l9":18,"h9":47},
{"m":"a","g":"FC","a":2,"md":29.5,"l5":24.5,"h5":34.5,"l9":19,"h9":49},
{"m":"a","g":"FC","a":4,"md":30.2,"l5":25,"h5":35.5,"l9":20,"h9":53},
{"m":"a","g":"FC","a":6,"md":30.8,"l5":25.5,"h5":36.5,"l9":20.5,"h9":56},
{"m":"a","g":"FC","a":8,"md":31.2,"l5":26,"h5":37.2,"l9":20.8,"h9":57.5},
{"m":"a","g":"FC","a":10,"md":31.5,"l5":26.3,"h5":37.6,"l9":21,"h9":56.5},
{"m":"a","g":"FC","a":12,"md":32,"l5":26.8,"h5":38.5,"l9":21,"h9":54},
{"m":"a","g":"FC","a":14,"md":33,"l5":27.5,"h5":39.5,"l9":20.8,"h9":51.5},
{"m":"a","g":"FC","a":16,"md":34,"l5":28,"h5":40,"l9":20.5,"h9":49.5},
{"m":"a","g":"FC","a":18,"md":33,"l5":27.3,"h5":38.5,"l9":20,"h9":48},
{"m":"a","g":"FC","a":20,"md":31.5,"l5":26.5,"h5":37,"l9":19.3,"h9":47.5},
{"m":"a","g":"FC","a":22,"md":30.6,"l5":25.8,"h5":35.8,"l9":18.8,"h9":47.2},
{"m":"a","g":"FC","a":25,"md":30,"l5":25.2,"h5":35,"l9":18.3,"h9":47},
{"m":"a","g":"FC","a":30,"md":29.2,"l5":24.6,"h5":34.2,"l9":17.8,"h9":46.3},
{"m":"a","g":"FC","a":35,"md":28.5,"l5":24,"h5":33.5,"l9":17.4,"h9":45.6},
{"m":"a","g":"FC","a":40,"md":27.8,"l5":23.3,"h5":32.8,"l9":17,"h9":45},
{"m":"a","g":"FC","a":45,"md":27.2,"l5":22.7,"h5":32.2,"l9":16.7,"h9":44.5},
{"m":"a","g":"FC","a":50,"md":27,"l5":22.5,"h5":32,"l9":16.4,"h9":44},
{"m":"a","g":"FC","a":55,"md":27.4,"l5":22.6,"h5":32.3,"l9":16.2,"h9":43.5},
{"m":"a","g":"FC","a":60,"md":28,"l5":23,"h5":33,"l9":16,"h9":43},
{"m":"a","g":"FC","a":65,"md":27,"l5":22,"h5":32,"l9":15.6,"h9":41.5},
{"m":"a","g":"FC","a":70,"md":24.6,"l5":20.2,"h5":29.5,"l9":15,"h9":39},
{"m":"a","g":"FC","a":75,"md":22.5,"l5":18.5,"h5":27.5,"l9":14.5,"h9":36.5},
{"m":"a","g":"FC","a":80,"md":20.5,"l5":17,"h5":26,"l9":14,"h9":33},
{"m":"a","g":"FF","a":13,"md":37,"l5":31,"h5":42,"l9":20,"h9":58.5},
{"m":"a","g":"FF","a":15,"md":36,"l5":30,"h5":41,"l9":19.8,"h9":58.5},
{"m":"a","g":"FF","a":18,"md":34,"l5":28,"h5":39,"l9":19,"h9":58},
{"m":"a","g":"FF","a":20,"md":32.5,"l5":27.2,"h5":37.8,"l9":18.5,"h9":57},
{"m":"a","g":"FF","a":25,"md":31,"l5":26,"h5":36,"l9":17.8,"h9":55},
{"m":"a","g":"FF","a":30,"md":30.3,"l5":25.5,"h5":35.2,"l9":17.3,"h9":54.3},
{"m":"a","g":"FF","a":35,"md":29.8,"l5":25,"h5":34.6,"l9":16.9,"h9":54},
{"m":"a","g":"FF","a":40,"md":29,"l5":24.3,"h5":33.8,"l9":16.5,"h9":53.5},
{"m":"a","g":"FF","a":45,"md":28.3,"l5":23.6,"h5":33.2,"l9":16.2,"h9":53},
{"m":"a","g":"FF","a":50,"md":28.2,"l5":23.6,"h5":33.1,"l9":16,"h9":52.5},
{"m":"a","g":"FF","a":55,"md":28.8,"l5":24,"h5":33.5,"l9":15.7,"h9":52},
{"m":"a","g":"FF","a":60,"md":29.2,"l5":24.5,"h5":34,"l9":15.4,"h9":51},
{"m":"a","g":"FF","a":65,"md":28.5,"l5":23.8,"h5":33.2,"l9":15,"h9":49.5},
{"m":"a","g":"FF","a":70,"md":27,"l5":22.2,"h5":32,"l9":14.6,"h9":47},
{"m":"a","g":"FF","a":75,"md":25.5,"l5":20.8,"h5":30.5,"l9":14.3,"h9":43.5},
{"m":"a","g":"FF","a":80,"md":24,"l5":19.5,"h5":29,"l9":14,"h9":39.5}
]
},
"columns": 3,
"bounds": "flush",
"spacing": {"row": 23.5, "column": 68},
"resolve": {"scale": {"x": "independent", "y": "independent", "fill": "independent", "color": "independent", "strokeDash": "independent"}, "legend": {"fill": "independent", "color": "independent", "strokeDash": "independent"}},
"concat": [
{"width": 550, "height": 221, "layer": [
 {"data": {"name": "d"}, "transform": [{"filter": "datum.m=='f' && (datum.g=='MC' || datum.g=='MF')"}],
  "mark": {"type": "area", "fillOpacity": 0.16, "stroke": "#666", "strokeOpacity": 0.5, "strokeWidth": 1},
  "encoding": {
   "x": {"field": "a", "type": "quantitative", "title": null, "scale": {"domain": [0, 80], "nice": false, "zero": false}, "axis": {"values": [0,1,2,3,4,5,6,7,8,9,10,11,12,13,14,15,16,17,18,25,30,35,40,45,50,55,60,65,70,75,80], "tickCount": 100, "labels": false, "labelOverlap": false, "encoding": {"ticks": {"y2": {"value": {"expr": "indexof([0,5,10],datum.value)>=0 || datum.value>=18 ? 9 : 4.5"}}}}}},
   "y": {"field": "l9", "type": "quantitative", "title": "Frequency (Hz)", "scale": {"domain": [11, 14.55], "nice": false, "zero": false}, "axis": {"values": [11,11.5,12,12.5,13,13.5,14], "tickCount": 100, "labelOverlap": false, "labelExpr": "datum.value%1==0 ? format(datum.value,'d') : ''", "encoding": {"ticks": {"x2": {"value": {"expr": "datum.value%1==0 ? -9 : -4.5"}}}}}},
   "y2": {"field": "h9"},
   "detail": {"field": "g"},
   "fill": {"datum": "95% range", "type": "nominal", "scale": {"domain": ["95% range", "50% range"], "range": ["#3c3cbe", "#3c3cbe"]}, "legend": {"title": null, "orient": "none", "legendX": 32, "legendY": -61.5, "direction": "horizontal", "columns": 2, "symbolType": "M-2.04,-0.84H2.04V0.84H-2.04Z", "symbolSize": 625, "labelOffset": 33, "columnPadding": 65, "padding": 0, "encoding": {"symbols": {"fillOpacity": {"condition": {"test": "datum.value=='95% range'", "value": 0.16}, "value": 0.4}, "stroke": {"value": "#999"}, "strokeWidth": {"value": 1.5}, "opacity": {"value": 1}}}}}
  }},
 {"data": {"name": "d"}, "transform": [{"filter": "datum.m=='f' && (datum.g=='MC' || datum.g=='MF')"}],
  "mark": {"type": "area", "fillOpacity": 0.4, "stroke": "#555", "strokeOpacity": 0.5, "strokeWidth": 1},
  "encoding": {
   "x": {"field": "a", "type": "quantitative", "title": null, "scale": {"domain": [0, 80], "nice": false, "zero": false}},
   "y": {"field": "l5", "type": "quantitative", "title": "Frequency (Hz)", "scale": {"domain": [11, 14.55], "nice": false, "zero": false}},
   "y2": {"field": "h5"},
   "detail": {"field": "g"},
   "fill": {"datum": "50% range", "type": "nominal", "scale": {"domain": ["95% range", "50% range"], "range": ["#3c3cbe", "#3c3cbe"]}}
  }},
 {"data": {"name": "d"}, "transform": [{"filter": "datum.m=='f' && (datum.g=='MC' || datum.g=='MF')"}],
  "mark": {"type": "line", "color": "#1f1f8a", "strokeWidth": 2.5},
  "encoding": {
   "x": {"field": "a", "type": "quantitative", "title": null, "scale": {"domain": [0, 80], "nice": false, "zero": false}},
   "y": {"field": "md", "type": "quantitative", "title": "Frequency (Hz)", "scale": {"domain": [11, 14.55], "nice": false, "zero": false}},
   "strokeDash": {"field": "g", "type": "nominal", "scale": {"domain": ["MC", "MF"], "range": [[1, 0], [10, 5]]}, "legend": null}
  }},
 {"data": {"values": [{"t": "Male"}]}, "mark": {"type": "text", "align": "right", "baseline": "middle", "font": "DejaVu Sans", "fontSize": 25, "color": "#222"},
  "encoding": {"x": {"datum": 76.2, "type": "quantitative"}, "y": {"datum": 14.36, "type": "quantitative"}, "text": {"field": "t"}}}
]},
{"width": 550, "height": 221, "layer": [
 {"data": {"name": "d"}, "transform": [{"filter": "datum.m=='f' && (datum.g=='FC' || datum.g=='FF')"}],
  "mark": {"type": "area", "fillOpacity": 0.16, "stroke": "#666", "strokeOpacity": 0.5, "strokeWidth": 1},
  "encoding": {
   "x": {"field": "a", "type": "quantitative", "title": null, "scale": {"domain": [0, 80], "nice": false, "zero": false}, "axis": {"values": [0,1,2,3,4,5,6,7,8,9,10,11,12,13,14,15,16,17,18,25,30,35,40,45,50,55,60,65,70,75,80], "tickCount": 100, "labels": false, "labelOverlap": false, "encoding": {"ticks": {"y2": {"value": {"expr": "indexof([0,5,10],datum.value)>=0 || datum.value>=18 ? 9 : 4.5"}}}}}},
   "y": {"field": "l9", "type": "quantitative", "title": null, "scale": {"domain": [11, 14.55], "nice": false, "zero": false}, "axis": {"values": [11,11.5,12,12.5,13,13.5,14], "tickCount": 100, "labelOverlap": false, "labelExpr": "datum.value%1==0 ? format(datum.value,'d') : ''", "encoding": {"ticks": {"x2": {"value": {"expr": "datum.value%1==0 ? -9 : -4.5"}}}}}},
   "y2": {"field": "h9"},
   "detail": {"field": "g"},
   "fill": {"datum": "95% range", "type": "nominal", "scale": {"domain": ["95% range", "50% range"], "range": ["#a8474d", "#a8474d"]}, "legend": {"title": null, "orient": "none", "legendX": 33, "legendY": -61.5, "direction": "horizontal", "columns": 2, "symbolType": "M-2.04,-0.84H2.04V0.84H-2.04Z", "symbolSize": 625, "labelOffset": 33, "columnPadding": 65, "padding": 0, "encoding": {"symbols": {"fillOpacity": {"condition": {"test": "datum.value=='95% range'", "value": 0.16}, "value": 0.4}, "stroke": {"value": "#999"}, "strokeWidth": {"value": 1.5}, "opacity": {"value": 1}}}}}
  }},
 {"data": {"name": "d"}, "transform": [{"filter": "datum.m=='f' && (datum.g=='FC' || datum.g=='FF')"}],
  "mark": {"type": "area", "fillOpacity": 0.4, "stroke": "#555", "strokeOpacity": 0.5, "strokeWidth": 1},
  "encoding": {
   "x": {"field": "a", "type": "quantitative", "title": null, "scale": {"domain": [0, 80], "nice": false, "zero": false}},
   "y": {"field": "l5", "type": "quantitative", "title": null, "scale": {"domain": [11, 14.55], "nice": false, "zero": false}},
   "y2": {"field": "h5"},
   "detail": {"field": "g"},
   "fill": {"datum": "50% range", "type": "nominal", "scale": {"domain": ["95% range", "50% range"], "range": ["#a8474d", "#a8474d"]}}
  }},
 {"data": {"name": "d"}, "transform": [{"filter": "datum.m=='f' && (datum.g=='FC' || datum.g=='FF')"}],
  "mark": {"type": "line", "color": "#8a1f1f", "strokeWidth": 2.5},
  "encoding": {
   "x": {"field": "a", "type": "quantitative", "title": null, "scale": {"domain": [0, 80], "nice": false, "zero": false}},
   "y": {"field": "md", "type": "quantitative", "title": null, "scale": {"domain": [11, 14.55], "nice": false, "zero": false}},
   "strokeDash": {"field": "g", "type": "nominal", "scale": {"domain": ["FC", "FF"], "range": [[1, 0], [10, 5]]}, "legend": null}
  }},
 {"data": {"values": [{"t": "Female"}]}, "mark": {"type": "text", "align": "right", "baseline": "middle", "font": "DejaVu Sans", "fontSize": 25, "color": "#222"},
  "encoding": {"x": {"datum": 76.2, "type": "quantitative"}, "y": {"datum": 14.36, "type": "quantitative"}, "text": {"field": "t"}}}
]},
{"width": 550, "height": 221, "layer": [
 {"data": {"name": "d"}, "transform": [{"filter": "datum.m=='f'"}],
  "mark": {"type": "line", "strokeWidth": 3},
  "encoding": {
   "x": {"field": "a", "type": "quantitative", "title": null, "scale": {"domain": [0, 80], "nice": false, "zero": false}, "axis": {"values": [0,1,2,3,4,5,6,7,8,9,10,11,12,13,14,15,16,17,18,25,30,35,40,45,50,55,60,65,70,75,80], "tickCount": 100, "labels": false, "labelOverlap": false, "encoding": {"ticks": {"y2": {"value": {"expr": "indexof([0,5,10],datum.value)>=0 || datum.value>=18 ? 9 : 4.5"}}}}}},
   "y": {"field": "md", "type": "quantitative", "title": null, "scale": {"domain": [11, 14.55], "nice": false, "zero": false}, "axis": {"values": [11,11.5,12,12.5,13,13.5,14], "tickCount": 100, "labelOverlap": false, "labelExpr": "datum.value%1==0 ? format(datum.value,'d') : ''", "encoding": {"ticks": {"x2": {"value": {"expr": "datum.value%1==0 ? -9 : -4.5"}}}}}},
   "color": {"field": "g", "type": "nominal", "scale": {"domain": ["MF", "MC", "FF", "FC"], "range": ["#2b2b7a", "#3232b8", "#7a2b2b", "#b82c2c"]}, "legend": {"title": null, "orient": "none", "legendX": 20, "legendY": -78, "direction": "horizontal", "columns": 2, "symbolType": "M-2.24,0H2.24", "symbolSize": 625, "symbolStrokeWidth": 3, "labelOffset": 19, "columnPadding": 29, "rowPadding": 6, "padding": 0, "labelExpr": "datum.label=='MF' ? 'Male, Frontal' : datum.label=='MC' ? 'Male, Central' : datum.label=='FF' ? 'Female, Frontal' : 'Female, Central'"}},
   "strokeDash": {"field": "g", "type": "nominal", "scale": {"domain": ["MF", "MC", "FF", "FC"], "range": [[10, 4], [1, 0], [10, 4], [1, 0]]}, "legend": {"title": null, "orient": "none", "legendX": 20, "legendY": -78, "direction": "horizontal", "columns": 2, "symbolType": "M-2.24,0H2.24", "symbolSize": 625, "symbolStrokeWidth": 3, "labelOffset": 19, "columnPadding": 29, "rowPadding": 6, "padding": 0, "labelExpr": "datum.label=='MF' ? 'Male, Frontal' : datum.label=='MC' ? 'Male, Central' : datum.label=='FF' ? 'Female, Frontal' : 'Female, Central'"}}
  }},
 {"data": {"name": "s"}, "transform": [{"filter": "datum.m=='f' && datum.t=='F'"}],
  "mark": {"type": "rule", "color": "#000", "strokeWidth": 5, "strokeDash": [16, 8]},
  "encoding": {
   "x": {"field": "a0", "type": "quantitative", "title": null, "scale": {"domain": [0, 80], "nice": false, "zero": false}},
   "x2": {"field": "a1"},
   "y": {"field": "v", "type": "quantitative", "title": null, "scale": {"domain": [11, 14.55], "nice": false, "zero": false}}
  }},
 {"data": {"name": "s"}, "transform": [{"filter": "datum.m=='f' && datum.t=='C'"}],
  "mark": {"type": "rule", "color": "#000", "strokeWidth": 5},
  "encoding": {
   "x": {"field": "a0", "type": "quantitative", "title": null, "scale": {"domain": [0, 80], "nice": false, "zero": false}},
   "x2": {"field": "a1"},
   "y": {"field": "v", "type": "quantitative", "title": null, "scale": {"domain": [11, 14.55], "nice": false, "zero": false}}
  }},
 {"data": {"values": [{"t": "Male and Female"}]}, "mark": {"type": "text", "align": "right", "baseline": "middle", "font": "DejaVu Sans", "fontSize": 25, "color": "#222"},
  "encoding": {"x": {"datum": 76.2, "type": "quantitative"}, "y": {"datum": 14.36, "type": "quantitative"}, "text": {"field": "t"}}}
]},
{"width": 550, "height": 221, "layer": [
 {"data": {"name": "d"}, "transform": [{"filter": "datum.m=='d' && (datum.g=='MC' || datum.g=='MF')"}],
  "mark": {"type": "area", "fillOpacity": 0.16, "stroke": "#666", "strokeOpacity": 0.5, "strokeWidth": 1},
  "encoding": {
   "x": {"field": "a", "type": "quantitative", "title": null, "scale": {"domain": [0, 80], "nice": false, "zero": false}, "axis": {"values": [0,1,2,3,4,5,6,7,8,9,10,11,12,13,14,15,16,17,18,25,30,35,40,45,50,55,60,65,70,75,80], "tickCount": 100, "labels": false, "labelOverlap": false, "encoding": {"ticks": {"y2": {"value": {"expr": "indexof([0,5,10],datum.value)>=0 || datum.value>=18 ? 9 : 4.5"}}}}}},
   "y": {"field": "l9", "type": "quantitative", "title": "Density (/ min)", "scale": {"domain": [0, 5.15], "nice": false, "zero": false}, "axis": {"values": [0,1,2,3,4,5], "tickCount": 100, "format": "d", "labelOverlap": false}},
   "y2": {"field": "h9"},
   "detail": {"field": "g"},
   "fill": {"datum": "95% range", "type": "nominal", "scale": {"domain": ["95% range", "50% range"], "range": ["#3c3cbe", "#3c3cbe"]}, "legend": null}
  }},
 {"data": {"name": "d"}, "transform": [{"filter": "datum.m=='d' && (datum.g=='MC' || datum.g=='MF')"}],
  "mark": {"type": "area", "fillOpacity": 0.4, "stroke": "#555", "strokeOpacity": 0.5, "strokeWidth": 1},
  "encoding": {
   "x": {"field": "a", "type": "quantitative", "title": null, "scale": {"domain": [0, 80], "nice": false, "zero": false}},
   "y": {"field": "l5", "type": "quantitative", "title": "Density (/ min)", "scale": {"domain": [0, 5.15], "nice": false, "zero": false}},
   "y2": {"field": "h5"},
   "detail": {"field": "g"},
   "fill": {"datum": "50% range", "type": "nominal", "scale": {"domain": ["95% range", "50% range"], "range": ["#3c3cbe", "#3c3cbe"]}, "legend": null}
  }},
 {"data": {"name": "d"}, "transform": [{"filter": "datum.m=='d' && (datum.g=='MC' || datum.g=='MF')"}],
  "mark": {"type": "line", "color": "#1f1f8a", "strokeWidth": 2.5},
  "encoding": {
   "x": {"field": "a", "type": "quantitative", "title": null, "scale": {"domain": [0, 80], "nice": false, "zero": false}},
   "y": {"field": "md", "type": "quantitative", "title": "Density (/ min)", "scale": {"domain": [0, 5.15], "nice": false, "zero": false}},
   "strokeDash": {"field": "g", "type": "nominal", "scale": {"domain": ["MC", "MF"], "range": [[1, 0], [10, 5]]}, "legend": null}
  }},
 {"data": {"values": [{"t": "Male"}]}, "mark": {"type": "text", "align": "right", "baseline": "middle", "font": "DejaVu Sans", "fontSize": 25, "color": "#222"},
  "encoding": {"x": {"datum": 76.2, "type": "quantitative"}, "y": {"datum": 4.87, "type": "quantitative"}, "text": {"field": "t"}}}
]},
{"width": 550, "height": 221, "layer": [
 {"data": {"name": "d"}, "transform": [{"filter": "datum.m=='d' && (datum.g=='FC' || datum.g=='FF')"}],
  "mark": {"type": "area", "fillOpacity": 0.16, "stroke": "#666", "strokeOpacity": 0.5, "strokeWidth": 1},
  "encoding": {
   "x": {"field": "a", "type": "quantitative", "title": null, "scale": {"domain": [0, 80], "nice": false, "zero": false}, "axis": {"values": [0,1,2,3,4,5,6,7,8,9,10,11,12,13,14,15,16,17,18,25,30,35,40,45,50,55,60,65,70,75,80], "tickCount": 100, "labels": false, "labelOverlap": false, "encoding": {"ticks": {"y2": {"value": {"expr": "indexof([0,5,10],datum.value)>=0 || datum.value>=18 ? 9 : 4.5"}}}}}},
   "y": {"field": "l9", "type": "quantitative", "title": null, "scale": {"domain": [0, 5.15], "nice": false, "zero": false}, "axis": {"values": [0,1,2,3,4,5], "tickCount": 100, "format": "d", "labelOverlap": false}},
   "y2": {"field": "h9"},
   "detail": {"field": "g"},
   "fill": {"datum": "95% range", "type": "nominal", "scale": {"domain": ["95% range", "50% range"], "range": ["#a8474d", "#a8474d"]}, "legend": null}
  }},
 {"data": {"name": "d"}, "transform": [{"filter": "datum.m=='d' && (datum.g=='FC' || datum.g=='FF')"}],
  "mark": {"type": "area", "fillOpacity": 0.4, "stroke": "#555", "strokeOpacity": 0.5, "strokeWidth": 1},
  "encoding": {
   "x": {"field": "a", "type": "quantitative", "title": null, "scale": {"domain": [0, 80], "nice": false, "zero": false}},
   "y": {"field": "l5", "type": "quantitative", "title": null, "scale": {"domain": [0, 5.15], "nice": false, "zero": false}},
   "y2": {"field": "h5"},
   "detail": {"field": "g"},
   "fill": {"datum": "50% range", "type": "nominal", "scale": {"domain": ["95% range", "50% range"], "range": ["#a8474d", "#a8474d"]}, "legend": null}
  }},
 {"data": {"name": "d"}, "transform": [{"filter": "datum.m=='d' && (datum.g=='FC' || datum.g=='FF')"}],
  "mark": {"type": "line", "color": "#8a1f1f", "strokeWidth": 2.5},
  "encoding": {
   "x": {"field": "a", "type": "quantitative", "title": null, "scale": {"domain": [0, 80], "nice": false, "zero": false}},
   "y": {"field": "md", "type": "quantitative", "title": null, "scale": {"domain": [0, 5.15], "nice": false, "zero": false}},
   "strokeDash": {"field": "g", "type": "nominal", "scale": {"domain": ["FC", "FF"], "range": [[1, 0], [10, 5]]}, "legend": null}
  }},
 {"data": {"values": [{"t": "Female"}]}, "mark": {"type": "text", "align": "right", "baseline": "middle", "font": "DejaVu Sans", "fontSize": 25, "color": "#222"},
  "encoding": {"x": {"datum": 76.2, "type": "quantitative"}, "y": {"datum": 4.87, "type": "quantitative"}, "text": {"field": "t"}}}
]},
{"width": 550, "height": 221, "layer": [
 {"data": {"name": "d"}, "transform": [{"filter": "datum.m=='d'"}],
  "mark": {"type": "line", "strokeWidth": 3},
  "encoding": {
   "x": {"field": "a", "type": "quantitative", "title": null, "scale": {"domain": [0, 80], "nice": false, "zero": false}, "axis": {"values": [0,1,2,3,4,5,6,7,8,9,10,11,12,13,14,15,16,17,18,25,30,35,40,45,50,55,60,65,70,75,80], "tickCount": 100, "labels": false, "labelOverlap": false, "encoding": {"ticks": {"y2": {"value": {"expr": "indexof([0,5,10],datum.value)>=0 || datum.value>=18 ? 9 : 4.5"}}}}}},
   "y": {"field": "md", "type": "quantitative", "title": null, "scale": {"domain": [0, 5.15], "nice": false, "zero": false}, "axis": {"values": [0,1,2,3,4,5], "tickCount": 100, "format": "d", "labelOverlap": false}},
   "color": {"field": "g", "type": "nominal", "scale": {"domain": ["MF", "MC", "FF", "FC"], "range": ["#2b2b7a", "#3232b8", "#7a2b2b", "#b82c2c"]}, "legend": null},
   "strokeDash": {"field": "g", "type": "nominal", "scale": {"domain": ["MF", "MC", "FF", "FC"], "range": [[10, 4], [1, 0], [10, 4], [1, 0]]}, "legend": null}
  }},
 {"data": {"name": "s"}, "transform": [{"filter": "datum.m=='d' && datum.t=='F'"}],
  "mark": {"type": "rule", "color": "#000", "strokeWidth": 5, "strokeDash": [16, 8]},
  "encoding": {
   "x": {"field": "a0", "type": "quantitative", "title": null, "scale": {"domain": [0, 80], "nice": false, "zero": false}},
   "x2": {"field": "a1"},
   "y": {"field": "v", "type": "quantitative", "title": null, "scale": {"domain": [0, 5.15], "nice": false, "zero": false}}
  }},
 {"data": {"name": "s"}, "transform": [{"filter": "datum.m=='d' && datum.t=='C'"}],
  "mark": {"type": "rule", "color": "#000", "strokeWidth": 5},
  "encoding": {
   "x": {"field": "a0", "type": "quantitative", "title": null, "scale": {"domain": [0, 80], "nice": false, "zero": false}},
   "x2": {"field": "a1"},
   "y": {"field": "v", "type": "quantitative", "title": null, "scale": {"domain": [0, 5.15], "nice": false, "zero": false}}
  }},
 {"data": {"values": [{"t": "Male and Female"}]}, "mark": {"type": "text", "align": "right", "baseline": "middle", "font": "DejaVu Sans", "fontSize": 25, "color": "#222"},
  "encoding": {"x": {"datum": 76.2, "type": "quantitative"}, "y": {"datum": 4.87, "type": "quantitative"}, "text": {"field": "t"}}}
]},
{"width": 550, "height": 221, "layer": [
 {"data": {"name": "d"}, "transform": [{"filter": "datum.m=='u' && (datum.g=='MC' || datum.g=='MF')"}],
  "mark": {"type": "area", "fillOpacity": 0.16, "stroke": "#666", "strokeOpacity": 0.5, "strokeWidth": 1},
  "encoding": {
   "x": {"field": "a", "type": "quantitative", "title": null, "scale": {"domain": [0, 80], "nice": false, "zero": false}, "axis": {"values": [0,1,2,3,4,5,6,7,8,9,10,11,12,13,14,15,16,17,18,25,30,35,40,45,50,55,60,65,70,75,80], "tickCount": 100, "labels": false, "labelOverlap": false, "encoding": {"ticks": {"y2": {"value": {"expr": "indexof([0,5,10],datum.value)>=0 || datum.value>=18 ? 9 : 4.5"}}}}}},
   "y": {"field": "l9", "type": "quantitative", "title": "Duration (s)", "scale": {"domain": [0.5, 2.0], "nice": false, "zero": false}, "axis": {"values": [0.5,1,1.5,2], "tickCount": 100, "format": ".1f", "labelOverlap": false}},
   "y2": {"field": "h9"},
   "detail": {"field": "g"},
   "fill": {"datum": "95% range", "type": "nominal", "scale": {"domain": ["95% range", "50% range"], "range": ["#3c3cbe", "#3c3cbe"]}, "legend": null}
  }},
 {"data": {"name": "d"}, "transform": [{"filter": "datum.m=='u' && (datum.g=='MC' || datum.g=='MF')"}],
  "mark": {"type": "area", "fillOpacity": 0.4, "stroke": "#555", "strokeOpacity": 0.5, "strokeWidth": 1},
  "encoding": {
   "x": {"field": "a", "type": "quantitative", "title": null, "scale": {"domain": [0, 80], "nice": false, "zero": false}},
   "y": {"field": "l5", "type": "quantitative", "title": "Duration (s)", "scale": {"domain": [0.5, 2.0], "nice": false, "zero": false}},
   "y2": {"field": "h5"},
   "detail": {"field": "g"},
   "fill": {"datum": "50% range", "type": "nominal", "scale": {"domain": ["95% range", "50% range"], "range": ["#3c3cbe", "#3c3cbe"]}, "legend": null}
  }},
 {"data": {"name": "d"}, "transform": [{"filter": "datum.m=='u' && (datum.g=='MC' || datum.g=='MF')"}],
  "mark": {"type": "line", "color": "#1f1f8a", "strokeWidth": 2.5},
  "encoding": {
   "x": {"field": "a", "type": "quantitative", "title": null, "scale": {"domain": [0, 80], "nice": false, "zero": false}},
   "y": {"field": "md", "type": "quantitative", "title": "Duration (s)", "scale": {"domain": [0.5, 2.0], "nice": false, "zero": false}},
   "strokeDash": {"field": "g", "type": "nominal", "scale": {"domain": ["MC", "MF"], "range": [[1, 0], [10, 5]]}, "legend": null}
  }},
 {"data": {"values": [{"t": "Male"}]}, "mark": {"type": "text", "align": "right", "baseline": "middle", "font": "DejaVu Sans", "fontSize": 25, "color": "#222"},
  "encoding": {"x": {"datum": 76.2, "type": "quantitative"}, "y": {"datum": 1.918, "type": "quantitative"}, "text": {"field": "t"}}}
]},
{"width": 550, "height": 221, "layer": [
 {"data": {"name": "d"}, "transform": [{"filter": "datum.m=='u' && (datum.g=='FC' || datum.g=='FF')"}],
  "mark": {"type": "area", "fillOpacity": 0.16, "stroke": "#666", "strokeOpacity": 0.5, "strokeWidth": 1},
  "encoding": {
   "x": {"field": "a", "type": "quantitative", "title": null, "scale": {"domain": [0, 80], "nice": false, "zero": false}, "axis": {"values": [0,1,2,3,4,5,6,7,8,9,10,11,12,13,14,15,16,17,18,25,30,35,40,45,50,55,60,65,70,75,80], "tickCount": 100, "labels": false, "labelOverlap": false, "encoding": {"ticks": {"y2": {"value": {"expr": "indexof([0,5,10],datum.value)>=0 || datum.value>=18 ? 9 : 4.5"}}}}}},
   "y": {"field": "l9", "type": "quantitative", "title": null, "scale": {"domain": [0.5, 2.0], "nice": false, "zero": false}, "axis": {"values": [0.5,1,1.5,2], "tickCount": 100, "format": ".1f", "labelOverlap": false}},
   "y2": {"field": "h9"},
   "detail": {"field": "g"},
   "fill": {"datum": "95% range", "type": "nominal", "scale": {"domain": ["95% range", "50% range"], "range": ["#a8474d", "#a8474d"]}, "legend": null}
  }},
 {"data": {"name": "d"}, "transform": [{"filter": "datum.m=='u' && (datum.g=='FC' || datum.g=='FF')"}],
  "mark": {"type": "area", "fillOpacity": 0.4, "stroke": "#555", "strokeOpacity": 0.5, "strokeWidth": 1},
  "encoding": {
   "x": {"field": "a", "type": "quantitative", "title": null, "scale": {"domain": [0, 80], "nice": false, "zero": false}},
   "y": {"field": "l5", "type": "quantitative", "title": null, "scale": {"domain": [0.5, 2.0], "nice": false, "zero": false}},
   "y2": {"field": "h5"},
   "detail": {"field": "g"},
   "fill": {"datum": "50% range", "type": "nominal", "scale": {"domain": ["95% range", "50% range"], "range": ["#a8474d", "#a8474d"]}, "legend": null}
  }},
 {"data": {"name": "d"}, "transform": [{"filter": "datum.m=='u' && (datum.g=='FC' || datum.g=='FF')"}],
  "mark": {"type": "line", "color": "#8a1f1f", "strokeWidth": 2.5},
  "encoding": {
   "x": {"field": "a", "type": "quantitative", "title": null, "scale": {"domain": [0, 80], "nice": false, "zero": false}},
   "y": {"field": "md", "type": "quantitative", "title": null, "scale": {"domain": [0.5, 2.0], "nice": false, "zero": false}},
   "strokeDash": {"field": "g", "type": "nominal", "scale": {"domain": ["FC", "FF"], "range": [[1, 0], [10, 5]]}, "legend": null}
  }},
 {"data": {"values": [{"t": "Female"}]}, "mark": {"type": "text", "align": "right", "baseline": "middle", "font": "DejaVu Sans", "fontSize": 25, "color": "#222"},
  "encoding": {"x": {"datum": 76.2, "type": "quantitative"}, "y": {"datum": 1.918, "type": "quantitative"}, "text": {"field": "t"}}}
]},
{"width": 550, "height": 221, "layer": [
 {"data": {"name": "d"}, "transform": [{"filter": "datum.m=='u'"}],
  "mark": {"type": "line", "strokeWidth": 3},
  "encoding": {
   "x": {"field": "a", "type": "quantitative", "title": null, "scale": {"domain": [0, 80], "nice": false, "zero": false}, "axis": {"values": [0,1,2,3,4,5,6,7,8,9,10,11,12,13,14,15,16,17,18,25,30,35,40,45,50,55,60,65,70,75,80], "tickCount": 100, "labels": false, "labelOverlap": false, "encoding": {"ticks": {"y2": {"value": {"expr": "indexof([0,5,10],datum.value)>=0 || datum.value>=18 ? 9 : 4.5"}}}}}},
   "y": {"field": "md", "type": "quantitative", "title": null, "scale": {"domain": [0.5, 2.0], "nice": false, "zero": false}, "axis": {"values": [0.5,1,1.5,2], "tickCount": 100, "format": ".1f", "labelOverlap": false}},
   "color": {"field": "g", "type": "nominal", "scale": {"domain": ["MF", "MC", "FF", "FC"], "range": ["#2b2b7a", "#3232b8", "#7a2b2b", "#b82c2c"]}, "legend": null},
   "strokeDash": {"field": "g", "type": "nominal", "scale": {"domain": ["MF", "MC", "FF", "FC"], "range": [[10, 4], [1, 0], [10, 4], [1, 0]]}, "legend": null}
  }},
 {"data": {"values": [{"t": "Male and Female"}]}, "mark": {"type": "text", "align": "right", "baseline": "middle", "font": "DejaVu Sans", "fontSize": 25, "color": "#222"},
  "encoding": {"x": {"datum": 76.2, "type": "quantitative"}, "y": {"datum": 1.918, "type": "quantitative"}, "text": {"field": "t"}}}
]},
{"width": 550, "height": 221, "layer": [
 {"data": {"name": "d"}, "transform": [{"filter": "datum.m=='a' && (datum.g=='MC' || datum.g=='MF')"}],
  "mark": {"type": "area", "fillOpacity": 0.16, "stroke": "#666", "strokeOpacity": 0.5, "strokeWidth": 1},
  "encoding": {
   "x": {"field": "a", "type": "quantitative", "title": "Age (years)", "scale": {"domain": [0, 80], "nice": false, "zero": false}, "axis": {"values": [0,1,2,3,4,5,6,7,8,9,10,11,12,13,14,15,16,17,18,25,30,35,40,45,50,55,60,65,70,75,80], "tickCount": 100, "labelOverlap": false, "labelFlush": false, "labelExpr": "indexof([0,5,10],datum.value)>=0 || datum.value>=18 ? datum.label : ''", "encoding": {"ticks": {"y2": {"value": {"expr": "indexof([0,5,10],datum.value)>=0 || datum.value>=18 ? 9 : 4.5"}}}}}},
   "y": {"field": "l9", "type": "quantitative", "title": "Amplitude (μV)", "scale": {"domain": [4, 79], "nice": false, "zero": false}, "axis": {"values": [20,40,60], "tickCount": 100, "format": "d", "labelOverlap": false}},
   "y2": {"field": "h9"},
   "detail": {"field": "g"},
   "fill": {"datum": "95% range", "type": "nominal", "scale": {"domain": ["95% range", "50% range"], "range": ["#3c3cbe", "#3c3cbe"]}, "legend": null}
  }},
 {"data": {"name": "d"}, "transform": [{"filter": "datum.m=='a' && (datum.g=='MC' || datum.g=='MF')"}],
  "mark": {"type": "area", "fillOpacity": 0.4, "stroke": "#555", "strokeOpacity": 0.5, "strokeWidth": 1},
  "encoding": {
   "x": {"field": "a", "type": "quantitative", "title": "Age (years)", "scale": {"domain": [0, 80], "nice": false, "zero": false}},
   "y": {"field": "l5", "type": "quantitative", "title": "Amplitude (μV)", "scale": {"domain": [4, 79], "nice": false, "zero": false}},
   "y2": {"field": "h5"},
   "detail": {"field": "g"},
   "fill": {"datum": "50% range", "type": "nominal", "scale": {"domain": ["95% range", "50% range"], "range": ["#3c3cbe", "#3c3cbe"]}, "legend": null}
  }},
 {"data": {"name": "d"}, "transform": [{"filter": "datum.m=='a' && (datum.g=='MC' || datum.g=='MF')"}],
  "mark": {"type": "line", "color": "#1f1f8a", "strokeWidth": 2.5},
  "encoding": {
   "x": {"field": "a", "type": "quantitative", "title": "Age (years)", "scale": {"domain": [0, 80], "nice": false, "zero": false}},
   "y": {"field": "md", "type": "quantitative", "title": "Amplitude (μV)", "scale": {"domain": [4, 79], "nice": false, "zero": false}},
   "strokeDash": {"field": "g", "type": "nominal", "scale": {"domain": ["MC", "MF"], "range": [[1, 0], [10, 5]]}, "legend": null}
  }},
 {"data": {"values": [{"t": "Male"}]}, "mark": {"type": "text", "align": "right", "baseline": "middle", "font": "DejaVu Sans", "fontSize": 25, "color": "#222"},
  "encoding": {"x": {"datum": 76.2, "type": "quantitative"}, "y": {"datum": 74.9, "type": "quantitative"}, "text": {"field": "t"}}}
]},
{"width": 550, "height": 221, "layer": [
 {"data": {"name": "d"}, "transform": [{"filter": "datum.m=='a' && (datum.g=='FC' || datum.g=='FF')"}],
  "mark": {"type": "area", "fillOpacity": 0.16, "stroke": "#666", "strokeOpacity": 0.5, "strokeWidth": 1},
  "encoding": {
   "x": {"field": "a", "type": "quantitative", "title": "Age (years)", "scale": {"domain": [0, 80], "nice": false, "zero": false}, "axis": {"values": [0,1,2,3,4,5,6,7,8,9,10,11,12,13,14,15,16,17,18,25,30,35,40,45,50,55,60,65,70,75,80], "tickCount": 100, "labelOverlap": false, "labelFlush": false, "labelExpr": "indexof([0,5,10],datum.value)>=0 || datum.value>=18 ? datum.label : ''", "encoding": {"ticks": {"y2": {"value": {"expr": "indexof([0,5,10],datum.value)>=0 || datum.value>=18 ? 9 : 4.5"}}}}}},
   "y": {"field": "l9", "type": "quantitative", "title": null, "scale": {"domain": [4, 79], "nice": false, "zero": false}, "axis": {"values": [20,40,60], "tickCount": 100, "format": "d", "labelOverlap": false}},
   "y2": {"field": "h9"},
   "detail": {"field": "g"},
   "fill": {"datum": "95% range", "type": "nominal", "scale": {"domain": ["95% range", "50% range"], "range": ["#a8474d", "#a8474d"]}, "legend": null}
  }},
 {"data": {"name": "d"}, "transform": [{"filter": "datum.m=='a' && (datum.g=='FC' || datum.g=='FF')"}],
  "mark": {"type": "area", "fillOpacity": 0.4, "stroke": "#555", "strokeOpacity": 0.5, "strokeWidth": 1},
  "encoding": {
   "x": {"field": "a", "type": "quantitative", "title": "Age (years)", "scale": {"domain": [0, 80], "nice": false, "zero": false}},
   "y": {"field": "l5", "type": "quantitative", "title": null, "scale": {"domain": [4, 79], "nice": false, "zero": false}},
   "y2": {"field": "h5"},
   "detail": {"field": "g"},
   "fill": {"datum": "50% range", "type": "nominal", "scale": {"domain": ["95% range", "50% range"], "range": ["#a8474d", "#a8474d"]}, "legend": null}
  }},
 {"data": {"name": "d"}, "transform": [{"filter": "datum.m=='a' && (datum.g=='FC' || datum.g=='FF')"}],
  "mark": {"type": "line", "color": "#8a1f1f", "strokeWidth": 2.5},
  "encoding": {
   "x": {"field": "a", "type": "quantitative", "title": "Age (years)", "scale": {"domain": [0, 80], "nice": false, "zero": false}},
   "y": {"field": "md", "type": "quantitative", "title": null, "scale": {"domain": [4, 79], "nice": false, "zero": false}},
   "strokeDash": {"field": "g", "type": "nominal", "scale": {"domain": ["FC", "FF"], "range": [[1, 0], [10, 5]]}, "legend": null}
  }},
 {"data": {"values": [{"t": "Female"}]}, "mark": {"type": "text", "align": "right", "baseline": "middle", "font": "DejaVu Sans", "fontSize": 25, "color": "#222"},
  "encoding": {"x": {"datum": 76.2, "type": "quantitative"}, "y": {"datum": 74.9, "type": "quantitative"}, "text": {"field": "t"}}}
]},
{"width": 550, "height": 221, "layer": [
 {"data": {"name": "d"}, "transform": [{"filter": "datum.m=='a'"}],
  "mark": {"type": "line", "strokeWidth": 3},
  "encoding": {
   "x": {"field": "a", "type": "quantitative", "title": "Age (years)", "scale": {"domain": [0, 80], "nice": false, "zero": false}, "axis": {"values": [0,1,2,3,4,5,6,7,8,9,10,11,12,13,14,15,16,17,18,25,30,35,40,45,50,55,60,65,70,75,80], "tickCount": 100, "labelOverlap": false, "labelFlush": false, "labelExpr": "indexof([0,5,10],datum.value)>=0 || datum.value>=18 ? datum.label : ''", "encoding": {"ticks": {"y2": {"value": {"expr": "indexof([0,5,10],datum.value)>=0 || datum.value>=18 ? 9 : 4.5"}}}}}},
   "y": {"field": "md", "type": "quantitative", "title": null, "scale": {"domain": [4, 79], "nice": false, "zero": false}, "axis": {"values": [20,40,60], "tickCount": 100, "format": "d", "labelOverlap": false}},
   "color": {"field": "g", "type": "nominal", "scale": {"domain": ["MF", "MC", "FF", "FC"], "range": ["#2b2b7a", "#3232b8", "#7a2b2b", "#b82c2c"]}, "legend": null},
   "strokeDash": {"field": "g", "type": "nominal", "scale": {"domain": ["MF", "MC", "FF", "FC"], "range": [[10, 4], [1, 0], [10, 4], [1, 0]]}, "legend": null}
  }},
 {"data": {"name": "s"}, "transform": [{"filter": "datum.m=='a' && datum.t=='F'"}],
  "mark": {"type": "rule", "color": "#000", "strokeWidth": 5, "strokeDash": [16, 8]},
  "encoding": {
   "x": {"field": "a0", "type": "quantitative", "title": "Age (years)", "scale": {"domain": [0, 80], "nice": false, "zero": false}},
   "x2": {"field": "a1"},
   "y": {"field": "v", "type": "quantitative", "title": null, "scale": {"domain": [4, 79], "nice": false, "zero": false}}
  }},
 {"data": {"name": "s"}, "transform": [{"filter": "datum.m=='a' && datum.t=='C'"}],
  "mark": {"type": "rule", "color": "#000", "strokeWidth": 5},
  "encoding": {
   "x": {"field": "a0", "type": "quantitative", "title": "Age (years)", "scale": {"domain": [0, 80], "nice": false, "zero": false}},
   "x2": {"field": "a1"},
   "y": {"field": "v", "type": "quantitative", "title": null, "scale": {"domain": [4, 79], "nice": false, "zero": false}}
  }},
 {"data": {"values": [{"t": "Male and Female"}]}, "mark": {"type": "text", "align": "right", "baseline": "middle", "font": "DejaVu Sans", "fontSize": 25, "color": "#222"},
  "encoding": {"x": {"datum": 76.2, "type": "quantitative"}, "y": {"datum": 74.9, "type": "quantitative"}, "text": {"field": "t"}}}
]}
]
}
